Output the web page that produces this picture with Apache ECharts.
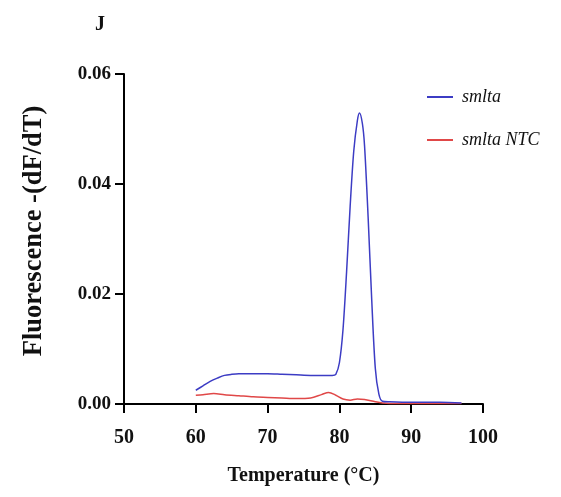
<!DOCTYPE html>
<html>
<head>
<meta charset="utf-8">
<script src="https://cdn.jsdelivr.net/npm/echarts@6/dist/echarts.min.js"></script>
<style>
html,body{margin:0;padding:0;background:#fff;}
#main{width:561px;height:497px;}
</style>
</head>
<body>
<div id="main"></div>
<script>
// melt curve
var smltaTemp = [60, 61, 62, 63, 64, 65, 66, 68, 70, 72, 74, 76, 78, 79, 79.5, 80, 80.5, 81, 81.5, 82, 82.5, 82.8, 83.2, 83.5, 84, 84.5, 85, 85.5, 86, 87, 90, 94, 97];
var smltaVal = [0.0025, 0.0033, 0.0041, 0.0047, 0.0052, 0.0054, 0.0055, 0.0055, 0.0055, 0.0054, 0.0053, 0.0052, 0.0052, 0.0052, 0.0054, 0.0075, 0.0135, 0.024, 0.036, 0.046, 0.0515, 0.0529, 0.051, 0.047, 0.034, 0.019, 0.0065, 0.0018, 0.0005, 0.0004, 0.0003, 0.0003, 0.0002];

var ntcTemp = [60, 61, 62.5, 64, 66, 68, 70, 72, 74, 76, 77.5, 78.5, 79.5, 80.5, 81.5, 82.5, 83.5, 85, 86, 88, 97];
var ntcVal = [0.0016, 0.0017, 0.0019, 0.0017, 0.0015, 0.0013, 0.0012, 0.0011, 0.0010, 0.0011, 0.0017, 0.0021, 0.0016, 0.0009, 0.0007, 0.0009, 0.0008, 0.0004, 0.0002, 0.0001, 0.0001];

var xTicks = [50, 60, 70, 80, 90, 100];
var yTicks = [0, 0.02, 0.04, 0.06];

function pairs(xs, ys){
	var out = [];
	for (var i = 0; i < xs.length; i++) {
		out.push([xs[i], ys[i]]);
	}
	return out;
}

var serif = "'Liberation Serif', 'Times New Roman', serif";
var myChart = echarts.init(document.getElementById("main"));

var option = {
	backgroundColor: '#fff',
	animation: false,
	title: {
		text: 'J',
		left: 90, top: 10,
		textStyle: {fontFamily: serif, fontWeight: 'bold', fontSize: 20, color: '#111'}
	},
	legend: {
		orient: 'vertical',
		left: 422, top: 83,
		icon: 'rect',
		itemWidth: 26, itemHeight: 2,
		itemGap: 25,
		textStyle: {fontFamily: serif, fontStyle: 'italic', fontSize: 18, color: '#111', padding: [0, 0, 0, 4]},
		data: ['smlta', 'smlta NTC']
	},
	grid: {left: 124, right: 78, top: 74, bottom: 93},
	xAxis: {
		type: 'value',
		min: xTicks[0], max: xTicks[xTicks.length - 1], interval: 10,
		name: 'Temperature (°C)',
		nameLocation: 'middle', nameGap: 62,
		nameTextStyle: {fontFamily: serif, fontWeight: 'bold', fontSize: 20, color: '#111'},
		axisLine: {onZero: false, lineStyle: {color: '#000', width: 2}},
		axisTick: {length: 9, lineStyle: {color: '#000', width: 2}},
		axisLabel: {fontFamily: serif, fontWeight: 'bold', fontSize: 20, color: '#111', margin: 24},
		splitLine: {show: false}
	},
	yAxis: {
		type: 'value',
		min: yTicks[0], max: yTicks[yTicks.length - 1], interval: 0.02,
		name: 'Fluorescence -(dF/dT)',
		nameLocation: 'middle', nameGap: 76,
		nameTextStyle: {fontFamily: serif, fontWeight: 'bold', fontSize: 26.5, color: '#111', padding: [0, 0, 0, 16]},
		axisLine: {show: true, lineStyle: {color: '#000', width: 2}},
		axisTick: {show: true, length: 9, lineStyle: {color: '#000', width: 2}},
		axisLabel: {
			fontFamily: serif, fontWeight: 'bold', fontSize: 19, color: '#111', margin: 13,
			formatter: function(v){ return v.toFixed(2); }
		},
		splitLine: {show: false}
	},
	series: [
		{
			name: 'smlta', type: 'line',
			data: pairs(smltaTemp, smltaVal),
			smooth: 0.3, symbol: 'none',
			lineStyle: {color: '#3c3cc4', width: 1.5},
			itemStyle: {color: '#3c3cc4'},
			z: 3
		},
		{
			name: 'smlta NTC', type: 'line',
			data: pairs(ntcTemp, ntcVal),
			smooth: 0.3, symbol: 'none',
			lineStyle: {color: '#e04848', width: 1.5},
			itemStyle: {color: '#e04848'},
			z: 2
		}
	]
};
myChart.setOption(option);
</script>
</body>
</html>
